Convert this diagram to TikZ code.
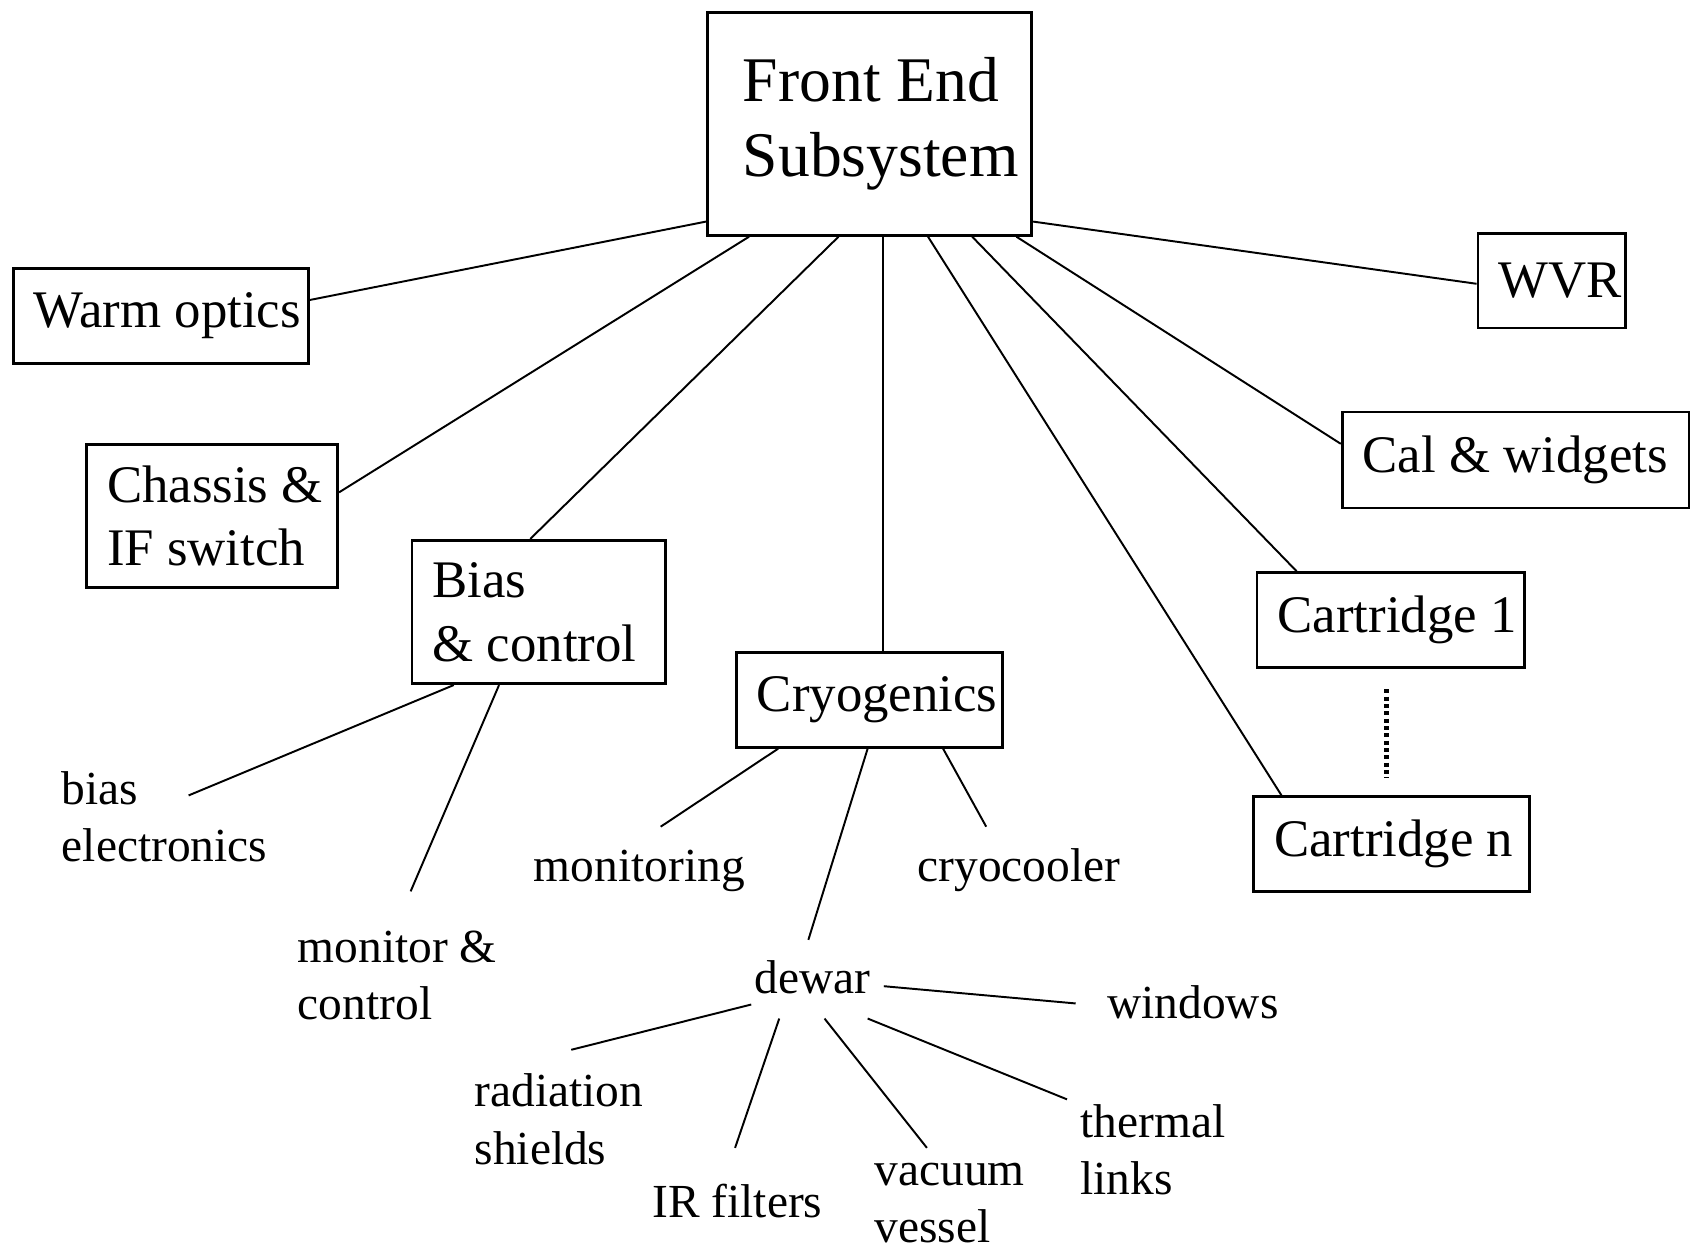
\documentclass[tikz,border=0pt]{standalone}
\usepackage{fontspec}
\setmainfont{Liberation Serif}
\usepackage{tikz}
\usetikzlibrary{positioning, calc}

\newcommand\topfont{\fontsize{29.5pt}{35pt}\selectfont\hyphenpenalty=10000 \spaceskip=\fontdimen2\font\relax}
\newcommand\boxfont{\fontsize{24.5pt}{29.5pt}\selectfont\hyphenpenalty=10000 \spaceskip=\fontdimen2\font\relax}
\newcommand\labfont{\fontsize{22pt}{26.5pt}\selectfont}

\begin{document}
\begin{tikzpicture}[
    x=0.5pt, y=-0.5pt,
    block/.style={draw, line width=1.3pt, anchor=north west, inner xsep=9.5pt, inner ysep=0pt, align=flush left, font=\boxfont},
    leaf/.style={anchor=base west, inner sep=0pt, align=flush left, font=\labfont},
    link/.style={line width=0.9pt}
]
    \useasboundingbox (0,0) rectangle (1568,1161);

    % main box and subsystems
    \node[block, font=\topfont, inner xsep=16.5pt, minimum width=150.5pt, minimum height=103.5pt, text width=117.5pt] (fes) at (655,10) {Front~End\\Subsystem};
    \node[block, minimum width=137pt, minimum height=44pt, text width=118pt] (warm) at (11,248) {Warm~optics};
    \node[block, minimum width=116.5pt, minimum height=66.5pt, text width=97.5pt] (chassis) at (79,411) {Chassis~\&\\IF~switch};
    \node[block, minimum width=117.5pt, minimum height=66.5pt, text width=98.5pt] (bias) at (381,500) {Bias\\\&~control};
    \node[block, minimum width=123.5pt, minimum height=44pt, text width=104.5pt] (cryo) at (682,604) {Cryogenics};
    \node[block, minimum width=68.5pt, minimum height=44pt, text width=49.5pt] (wvr) at (1370,215) {WVR};
    \node[block, minimum width=161pt, minimum height=44.5pt, text width=142pt] (cal) at (1244,381) {Cal~\&~widgets};
    \node[block, minimum width=124pt, minimum height=44pt, text width=105pt] (cart1) at (1165,530) {Cartridge~1};
    \node[block, minimum width=128pt, minimum height=44pt, text width=109pt] (cartn) at (1162,738) {Cartridge~n};

    % leaves (base = last line)
    \node[leaf] (biaselec) at (57,799) {bias\\electronics};
    \node[leaf] (monctl) at (276,946) {monitor \&\\control};
    \node[leaf] (monitoring) at (495,818) {monitoring};
    \node[leaf] (cryocooler) at (851,818) {cryocooler};
    \node[leaf] (dewar) at (700,922) {dewar};
    \node[leaf] (windows) at (1027,945) {windows};
    \node[leaf] (radshield) at (440,1080) {radiation\\shields};
    \node[leaf] (irfilt) at (605,1130) {IR filters};
    \node[leaf] (vacvessel) at (811,1153) {vacuum\\vessel};
    \node[leaf] (thermlink) at (1002,1108) {thermal\\links};

    % from the front end
    \draw[link] ($(fes.south west)+(0,-14)$) -- ($(warm.east)+(0,-15)$);
    \draw[link] ($(fes.south west)+(40,0)$) -- ($(chassis.east)+(0,-22)$);
    \draw[link] ($(fes.south west)+(123,0)$) -- ($(bias.north west)+(111,0)$);
    \draw[link] ($(fes.south west)+(164,0)$) -- ($(cryo.north west)+(137,0)$);
    \draw[link] ($(fes.south west)+(206,0)$) -- ($(cartn.north west)+(27,0)$);
    \draw[link] ($(fes.south west)+(247,0)$) -- ($(cart1.north west)+(38,0)$);
    \draw[link] ($(fes.south west)+(288,0)$) -- ($(cal.west)+(0,-15)$);
    \draw[link] ($(fes.south east)+(0,-14)$) -- ($(wvr.west)+(0,3)$);
    \draw[line width=2pt, dash pattern=on 1.8pt off 1.6pt] ($(cart1.south)+(-4,19)$) -- ($(cartn.north)+(-5,-16)$);

    % bias & control
    \draw[link] ($(bias.south west)+(40,0)$) -- ($(biaselec.base west)+(118,-61)$);
    \draw[link] ($(bias.south west)+(82,0)$) -- ($(monctl.base west)+(105,-119)$);

    % cryogenics
    \draw[link] ($(cryo.south west)+(40,0)$) -- ($(monitoring.base west)+(118,-51)$);
    \draw[link] ($(cryo.south west)+(123,0)$) -- ($(dewar.base west)+(50,-50)$);
    \draw[link] ($(cryo.south west)+(193,0)$) -- ($(cryocooler.base west)+(64,-51)$);

    % dewar
    \draw[link] ($(dewar.base west)+(-3,10)$) -- ($(radshield.base west)+(90,-106)$);
    \draw[link] ($(dewar.base west)+(23,23)$) -- ($(irfilt.base west)+(77,-65)$);
    \draw[link] ($(dewar.base west)+(65,23)$) -- ($(vacvessel.base west)+(49,-88)$);
    \draw[link] ($(dewar.base west)+(105,23)$) -- ($(thermlink.base west)+(-12,-88)$);
    \draw[link] ($(dewar.base west)+(120,-7)$) -- ($(windows.base west)+(-29,-14)$);
\end{tikzpicture}
\end{document}
